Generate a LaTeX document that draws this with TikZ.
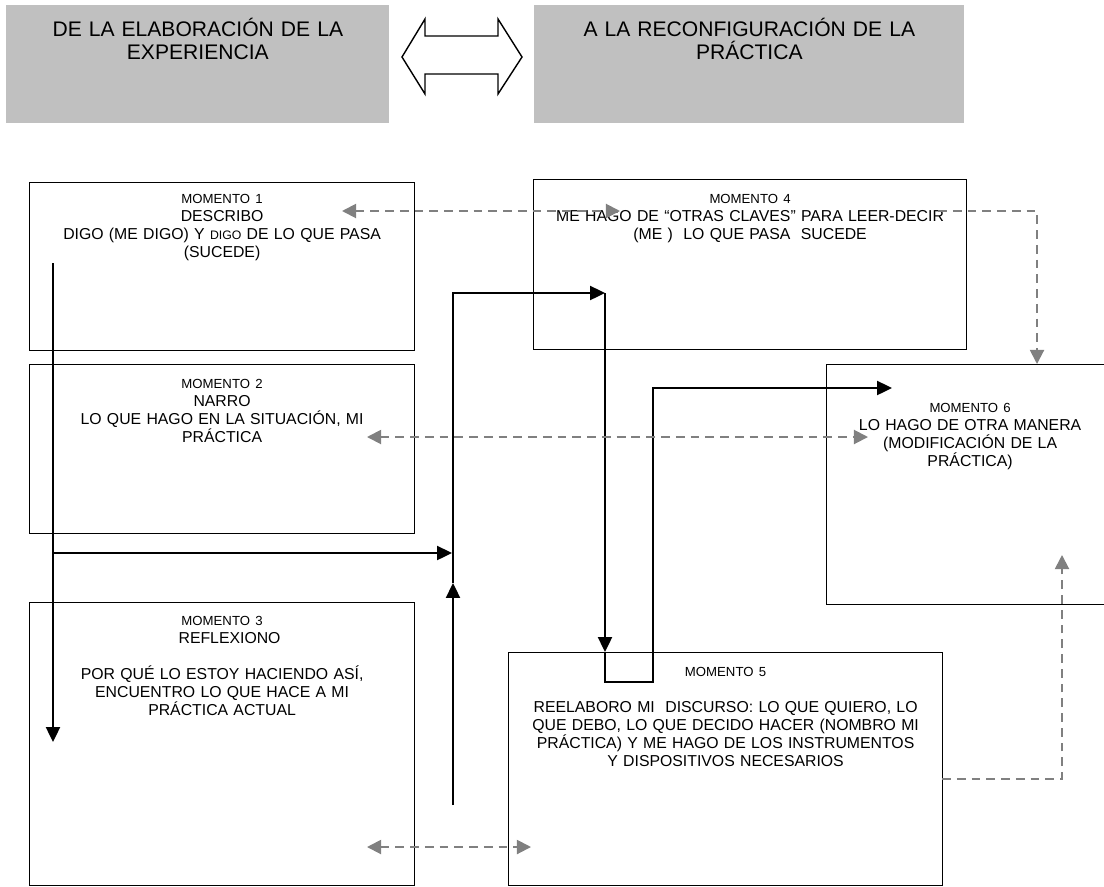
\documentclass[tikz,border=0pt]{standalone}
\usepackage{fontspec}
\setmainfont{Liberation Sans}
\usepackage{tikz}
\usetikzlibrary{arrows.meta}
\definecolor{hdrGray}{HTML}{C0C0C0}
\definecolor{dashGray}{HTML}{808080}
\newcommand{\momLabel}[1]{{\fontsize{7.5}{9}\selectfont #1}}
\tikzstyle{mHeader} = [rectangle, fill=hdrGray, anchor=north west, inner sep=0pt, align=center, font=\fontsize{12}{13}\selectfont]
\tikzstyle{mBox} = [rectangle, draw=black, line width=0.7pt, anchor=north west, inner sep=0pt, align=center, font=\fontsize{9}{10.3}\selectfont]
\tikzstyle{mLine} = [line width=1.1pt]
\tikzstyle{mArrow} = [line width=1.1pt, -{Triangle[length=8.5pt, width=8pt]}]
\tikzstyle{mDash} = [draw=dashGray, line width=1.1pt, dash pattern=on 5pt off 3.4pt, -{Triangle[length=8pt, width=8pt]}]
\tikzstyle{mDashBoth} = [mDash, {Triangle[length=8pt, width=8pt]}-{Triangle[length=8pt, width=8pt]}]

\begin{document}
\begin{tikzpicture}[x=0.02cm, y=-0.02cm]
    \useasboundingbox (0,0) rectangle (1104,886);

    % encabezados
    \node (hdrLeft) [mHeader, text width=7.66cm, text height=0.62cm, text depth=1.74cm] at (6,5) {DE LA ELABORACIÓN DE LA\\EXPERIENCIA};
    \node (hdrRight) [mHeader, text width=8.6cm, text height=0.62cm, text depth=1.74cm] at (534,5) {A LA RECONFIGURACIÓN DE LA\\PRÁCTICA};
    \draw [line width=0.8pt, fill=white] (402,57) -- (425,19) -- (425,36) -- (498,36) -- (498,19) -- (522,57) -- (498,94) -- (498,74) -- (425,74) -- (425,94) -- cycle;

    % momentos
    \node (m1) [mBox, text width=7.7cm, text height=0.42cm, text depth=2.94cm] at (29,182) {\momLabel{MOMENTO 1}\\DESCRIBO\\DIGO (ME DIGO) Y {\fontsize{7}{8}\selectfont DIGO} DE LO QUE PASA\\(SUCEDE)};
    \node (m2) [mBox, text width=7.7cm, text height=0.48cm, text depth=2.9cm] at (29,364) {\momLabel{MOMENTO 2}\\NARRO\\LO QUE HAGO EN LA SITUACIÓN, MI\\PRÁCTICA};
    \node (m3) [mBox, text width=7.7cm, text height=0.46cm, text depth=5.2cm] at (29,602) {\momLabel{MOMENTO 3}\\\hspace*{0.3cm}REFLEXIONO\\[10pt]POR QUÉ LO ESTOY HACIENDO ASÍ,\\ENCUENTRO LO QUE HACE A MI\\PRÁCTICA ACTUAL};
    \node (m4) [mBox, text width=8.66cm, text height=0.48cm, text depth=2.92cm] at (533,179) {\momLabel{MOMENTO 4}\\ME HAGO DE “OTRAS CLAVES” PARA LEER-DECIR\\(ME~)~~LO QUE PASA~~SUCEDE};
    \node (m5) [mBox, text width=8.68cm, text height=0.48cm, text depth=4.18cm] at (508,652) {\momLabel{MOMENTO 5}\\[10pt]REELABORO MI~~DISCURSO: LO QUE QUIERO, LO\\QUE DEBO, LO QUE DECIDO HACER (NOMBRO MI\\PRÁCTICA) Y ME HAGO DE LOS INSTRUMENTOS\\Y DISPOSITIVOS NECESARIOS};
    \node (m6) [mBox, text width=5.74cm, text height=0.96cm, text depth=3.84cm] at (826,364) {\momLabel{MOMENTO 6}\\LO HAGO DE OTRA MANERA\\(MODIFICACIÓN DE LA\\PRÁCTICA)};

    % puntos de los conectores
    \coordinate (aStart) at (53,263);
    \coordinate (aEnd) at (53,742);
    \coordinate (bStart) at (53,553);
    \coordinate (bEnd) at (452,553);
    \coordinate (cStart) at (453,805);
    \coordinate (cEnd) at (453,583);
    \coordinate (dCorner) at (453,293);
    \coordinate (dEnd) at (605,293);
    \coordinate (fLow) at (605,682);
    \coordinate (fCorner) at (653,682);
    \coordinate (fUp) at (653,388);
    \coordinate (fEnd) at (892,388);
    \coordinate (g1Left) at (342,211);
    \coordinate (g1Right) at (620,211);
    \coordinate (g1Out) at (938,211);
    \coordinate (g1Down) at (1037,364);
    \coordinate (g2Left) at (367,437);
    \coordinate (g2Right) at (868,437);
    \coordinate (g3Left) at (367,847);
    \coordinate (g3Right) at (531,847);
    \coordinate (g4Start) at (942,779);
    \coordinate (g4End) at (1062,555);

    % flechas negras
    \draw [mArrow] (aStart) -- (aEnd);
    \draw [mArrow] (bStart) -- (bEnd);
    \draw [mArrow] (cStart) -- (cEnd);
    \draw [mArrow] (cEnd) -- (dCorner) -- (dEnd);
    \draw [mArrow] (dEnd) -- (dEnd |- m5.north);
    \draw [mArrow] (dEnd |- m5.north) -- (fLow) -- (fCorner) -- (fUp) -- (fEnd);

    % flechas punteadas
    \draw [mDashBoth] (g1Left) -- (g1Right);
    \draw [mDash] (g1Out) -| (g1Down);
    \draw [mDashBoth] (g2Left) -- (g2Right);
    \draw [mDashBoth] (g3Left) -- (g3Right);
    \draw [mDash] (g4Start) -| (g4End);
\end{tikzpicture}
\end{document}
